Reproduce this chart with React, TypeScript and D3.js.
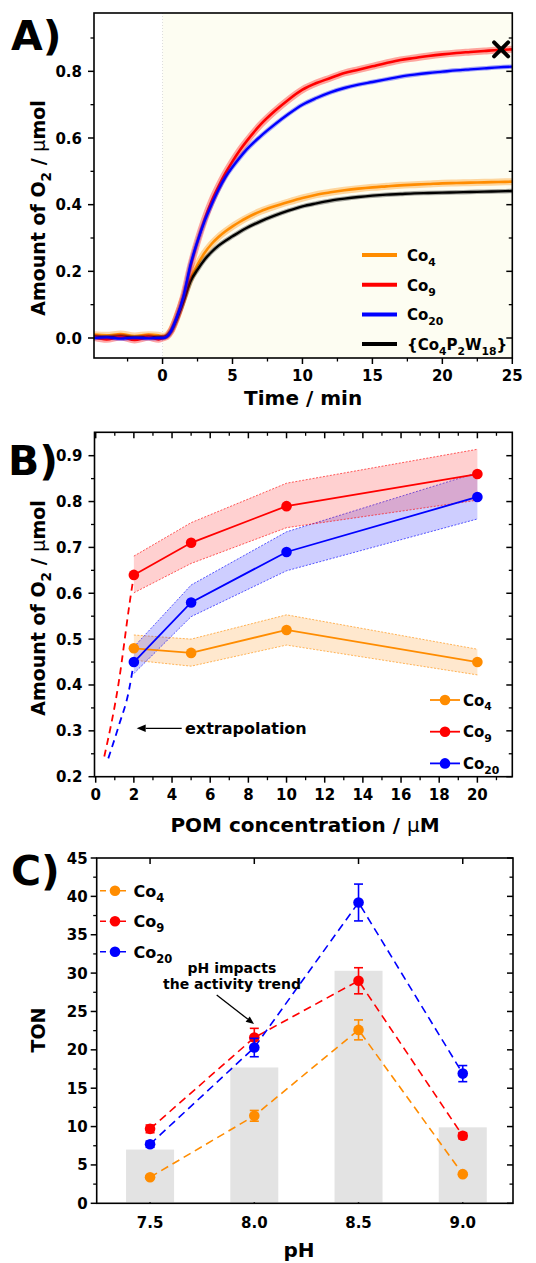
import React from 'react';
import * as d3 from 'd3';

// ---------------- Panel A data (O2 evolution vs time) ----------------
const timeA = [-4.9, -4, -3, -2, -1, -0.3, 0, 0.3, 0.6, 1, 1.5, 2, 2.5, 3, 3.5, 4, 4.5, 5, 5.5, 6, 7, 8, 9, 10, 11, 12, 13, 14, 15, 16, 17, 18, 19, 20, 21, 22, 23, 24, 25];
const co4A = [0.01, 0.008, 0.012, 0.006, 0.01, 0.008, 0.005, 0.008, 0.022, 0.06, 0.12, 0.178, 0.22, 0.255, 0.282, 0.303, 0.32, 0.335, 0.348, 0.36, 0.38, 0.395, 0.408, 0.42, 0.43, 0.437, 0.443, 0.448, 0.452, 0.455, 0.458, 0.46, 0.462, 0.464, 0.465, 0.466, 0.467, 0.468, 0.469];
const co9A = [0.002, -0.004, 0.003, -0.006, 0.002, -0.004, 0.0, 0.004, 0.02, 0.06, 0.125, 0.215, 0.29, 0.355, 0.41, 0.455, 0.495, 0.53, 0.562, 0.59, 0.64, 0.68, 0.715, 0.745, 0.765, 0.78, 0.795, 0.805, 0.815, 0.825, 0.834, 0.84, 0.846, 0.851, 0.855, 0.858, 0.861, 0.864, 0.866];
const co20A = [0.0, 0.002, -0.002, 0.001, -0.001, 0.0, 0.0, 0.004, 0.02, 0.06, 0.125, 0.22, 0.29, 0.35, 0.4, 0.445, 0.483, 0.513, 0.54, 0.565, 0.605, 0.64, 0.672, 0.7, 0.72, 0.737, 0.75, 0.76, 0.768, 0.776, 0.784, 0.79, 0.795, 0.799, 0.803, 0.806, 0.809, 0.812, 0.814];
const refA = [0.004, 0.002, 0.005, 0.001, 0.003, 0.002, 0.002, 0.006, 0.02, 0.055, 0.11, 0.17, 0.205, 0.235, 0.258, 0.277, 0.292, 0.305, 0.318, 0.33, 0.35, 0.367, 0.382, 0.395, 0.404, 0.412, 0.418, 0.423, 0.427, 0.43, 0.432, 0.434, 0.435, 0.436, 0.437, 0.438, 0.439, 0.44, 0.441];
const crossA = { t: 24.2, v: 0.866 };
const xTicksA = [0, 5, 10, 15, 20, 25];
const xMinorA = [-2.5, 2.5, 7.5, 12.5, 17.5, 22.5];
const yTicksA = [0, 0.2, 0.4, 0.6, 0.8];
const yMinorA = [0.1, 0.3, 0.5, 0.7, 0.9];

// ---------------- Panel B data (O2 vs POM concentration) ----------------
const concB = [2, 5, 10, 20];
const co4B = [0.48, 0.47, 0.52, 0.45];
const co4BLo = [0.454, 0.441, 0.487, 0.422];
const co4BHi = [0.509, 0.5, 0.553, 0.478];
const co9B = [0.64, 0.71, 0.79, 0.86];
const co9BLo = [0.601, 0.665, 0.743, 0.803];
const co9BHi = [0.681, 0.754, 0.84, 0.914];
const co20B = [0.45, 0.58, 0.69, 0.81];
const co20BLo = [0.425, 0.549, 0.649, 0.762];
const co20BHi = [0.483, 0.618, 0.734, 0.863];
const extraCo9Conc = [0.45, 1.2, 1.8, 2];
const extraCo9Val = [0.244, 0.404, 0.585, 0.64];
const extraCo20Conc = [0.66, 1.2, 1.75, 2];
const extraCo20Val = [0.24, 0.31, 0.39, 0.45];
const xTicksB = [0, 2, 4, 6, 8, 10, 12, 14, 16, 18, 20];
const xMinorB = [1, 3, 5, 7, 9, 11, 13, 15, 17, 19, 21];
const yTicksB = [0.2, 0.3, 0.4, 0.5, 0.6, 0.7, 0.8, 0.9];
const yMinorB = [0.25, 0.35, 0.45, 0.55, 0.65, 0.75, 0.85];

// ---------------- Panel C data (TON vs pH) ----------------
const pHC = [7.5, 8.0, 8.5, 9.0];
const pHLabels = ['7.5', '8.0', '8.5', '9.0'];
const barC = [7.0, 17.7, 30.3, 9.9];
const co4C = [3.4, 11.4, 22.6, 3.8];
const co4CErr = [0.2, 0.7, 1.3, 0.2];
const co9C = [9.7, 21.6, 29.0, 8.8];
const co9CErr = [0.5, 1.2, 1.7, 0.4];
const co20C = [7.7, 20.3, 39.2, 16.9];
const co20CErr = [0.4, 1.2, 2.4, 1.05];
const yTicksC = [0, 5, 10, 15, 20, 25, 30, 35, 40, 45];
const yMinorC = [2.5, 7.5, 12.5, 17.5, 22.5, 27.5, 32.5, 37.5, 42.5];

const ORANGE = '#ff8c00';
const RED = '#ff0000';
const BLUE = '#0000ff';
const BLACK = '#000000';
const FONT = "'DejaVu Sans', Verdana, sans-serif";

type Part = { t: string; sub?: boolean; normal?: boolean };

function Rich(props: { x: number; y: number; parts: Part[]; size: number; anchor?: string; transform?: string }) {
  const { x, y, parts, size, anchor = 'start', transform } = props;
  const off = size * 0.32;
  let prevSub = false;
  return (
    <text x={x} y={y} fontSize={size} fontWeight="bold" fontFamily={FONT} textAnchor={anchor} transform={transform}>
      {parts.map((p, i) => {
        const dy = (p.sub ? off : 0) - (prevSub ? off : 0);
        prevSub = !!p.sub;
        return (
          <tspan key={i} dy={dy} fontSize={p.sub ? size * 0.72 : size} fontWeight={p.normal ? 'normal' : 'bold'}>
            {p.t}
          </tspan>
        );
      })}
    </text>
  );
}

function Arrow({ x1, y1, x2, y2, head = 8 }: { x1: number; y1: number; x2: number; y2: number; head?: number }) {
  const a = Math.atan2(y2 - y1, x2 - x1);
  const hw = head * 0.42;
  const bx = x2 - head * Math.cos(a);
  const by = y2 - head * Math.sin(a);
  const p1 = [bx + hw * Math.sin(a), by - hw * Math.cos(a)];
  const p2 = [bx - hw * Math.sin(a), by + hw * Math.cos(a)];
  return (
    <g>
      <line x1={x1} y1={y1} x2={bx} y2={by} stroke="#000" strokeWidth={1.3} />
      <polygon points={`${x2},${y2} ${p1[0]},${p1[1]} ${p2[0]},${p2[1]}`} fill="#000" />
    </g>
  );
}

const co = (n: string): Part[] => [{ t: 'Co' }, { t: n, sub: true }];
const yTitleParts: Part[] = [{ t: 'Amount of O' }, { t: '2', sub: true }, { t: ' / ' }, { t: 'µ', normal: true }, { t: 'mol' }];

export default function App() {
  // ---------- scales ----------
  const xA = d3.scaleLinear().domain([-4.9, 25]).range([94, 512.3]);
  const yA = d3.scaleLinear().domain([-0.06, 0.975]).range([358, 13]);
  const xB = d3.scaleLinear().domain([0, 21.83]).range([95.7, 512.3]);
  const yB = d3.scaleLinear().domain([0.2, 0.951]).range([776.7, 432.3]);
  const xC = d3.scaleLinear().domain([7.244, 9.241]).range([96.7, 513]);
  const yC = d3.scaleLinear().domain([0, 45]).range([1203.3, 858]);

  const lineA = d3
    .line<number>()
    .x((_, i) => xA(timeA[i]))
    .y((d) => yA(d))
    .curve(d3.curveMonotoneX);

  const seriesA = [
    { name: co('4'), vals: co4A, color: ORANGE, w: 2.6, halo: 7 },
    { name: co('9'), vals: co9A, color: RED, w: 2.6, halo: 7 },
    { name: co('20'), vals: co20A, color: BLUE, w: 2.4, halo: 4.5 },
    {
      name: [{ t: '{Co' }, { t: '4', sub: true }, { t: 'P' }, { t: '2', sub: true }, { t: 'W' }, { t: '18', sub: true }, { t: '}' }] as Part[],
      vals: refA,
      color: BLACK,
      w: 2.4,
      halo: 4.5,
    },
  ];
  const drawOrderA = [0, 3, 1, 2];

  const [aL, aR, aT, aB] = [xA.range()[0], xA.range()[1], yA.range()[1], yA.range()[0]];
  const [bL, bR, bT, bB] = [94.5, xB.range()[1], yB.range()[1], yB.range()[0]];
  const [cL, cR, cT, cB] = [xC.range()[0], xC.range()[1], yC.range()[1], yC.range()[0]];

  // ---------- Panel B helpers ----------
  const lineB = (xs: number[], ys: number[], curve = d3.curveLinear) =>
    d3
      .line<number>()
      .x((_, i) => xB(xs[i]))
      .y((d) => yB(d))
      .curve(curve)(ys) as string;
  const areaB = (lo: number[], hi: number[]) =>
    d3
      .area<number>()
      .x((_, i) => xB(concB[i]))
      .y0((_, i) => yB(lo[i]))
      .y1((d) => yB(d))(hi) as string;

  const seriesB = [
    { name: co('4'), v: co4B, lo: co4BLo, hi: co4BHi, color: ORANGE, fill: 'rgba(255,150,30,0.22)' },
    { name: co('20'), v: co20B, lo: co20BLo, hi: co20BHi, color: BLUE, fill: 'rgba(30,30,255,0.22)' },
    { name: co('9'), v: co9B, lo: co9BLo, hi: co9BHi, color: RED, fill: 'rgba(255,40,40,0.22)' },
  ];
  const legendB = [
    { name: co('4'), color: ORANGE },
    { name: co('9'), color: RED },
    { name: co('20'), color: BLUE },
  ];

  // ---------- Panel C helpers ----------
  const lineC = (ys: number[]) =>
    d3
      .line<number>()
      .x((_, i) => xC(pHC[i]))
      .y((d) => yC(d))(ys) as string;
  const seriesC = [
    { name: co('4'), v: co4C, e: co4CErr, color: ORANGE },
    { name: co('9'), v: co9C, e: co9CErr, color: RED },
    { name: co('20'), v: co20C, e: co20CErr, color: BLUE },
  ];

  const tickFont = { fontFamily: FONT, fontWeight: 'bold' as const, fontSize: 15 };

  return (
    <svg width={536} height={1263} style={{ position: 'absolute', left: 0, top: 0, background: '#fff' }}>
      {/* ================= PANEL A ================= */}
      <rect x={xA(0)} y={aT} width={aR - xA(0)} height={aB - aT} fill="#fdfdf2" />
      <line x1={xA(0)} x2={xA(0)} y1={aT} y2={aB} stroke="#dcdcdc" strokeDasharray="1,2" />
      {drawOrderA.map((k) => {
        const s = seriesA[k];
        const d = lineA(s.vals) as string;
        return (
          <g key={k}>
            <path d={d} fill="none" stroke={s.color} strokeWidth={s.halo} strokeOpacity={0.35} strokeLinejoin="round" />
            <path d={d} fill="none" stroke={s.color} strokeWidth={s.w} strokeLinejoin="round" />
          </g>
        );
      })}
      {/* cross marker */}
      <g stroke="#000" strokeWidth={4} strokeLinecap="round">
        <line x1={xA(crossA.t) - 7} y1={yA(crossA.v) - 7} x2={xA(crossA.t) + 7} y2={yA(crossA.v) + 7} />
        <line x1={xA(crossA.t) - 7} y1={yA(crossA.v) + 7} x2={xA(crossA.t) + 7} y2={yA(crossA.v) - 7} />
      </g>
      {/* legend A */}
      {seriesA.map((s, i) => {
        const ly = 255 + i * 29.7;
        return (
          <g key={i}>
            <line x1={362} x2={397} y1={ly} y2={ly} stroke={s.color} strokeWidth={4} />
            <Rich x={407} y={ly + 6} parts={s.name} size={15} />
          </g>
        );
      })}
      {/* frame & ticks A */}
      <rect x={aL} y={aT} width={aR - aL} height={aB - aT} fill="none" stroke="#000" strokeWidth={1.6} />
      {xTicksA.map((t) => (
        <g key={'xa' + t}>
          <line x1={xA(t)} x2={xA(t)} y1={aB} y2={aB + 6} stroke="#000" strokeWidth={1.5} />
          <text x={xA(t)} y={aB + 23} textAnchor="middle" {...tickFont}>{t}</text>
        </g>
      ))}
      {xMinorA.map((t) => (
        <line key={'xam' + t} x1={xA(t)} x2={xA(t)} y1={aB} y2={aB + 3.5} stroke="#000" strokeWidth={1.3} />
      ))}
      {yTicksA.map((t) => (
        <g key={'ya' + t}>
          <line x1={aL - 6} x2={aL} y1={yA(t)} y2={yA(t)} stroke="#000" strokeWidth={1.5} />
          <line x1={aR - 6} x2={aR} y1={yA(t)} y2={yA(t)} stroke="#000" strokeWidth={1.5} />
          <text x={aL - 12} y={yA(t) + 5.5} textAnchor="end" {...tickFont}>{t.toFixed(1)}</text>
        </g>
      ))}
      {yMinorA.map((t) => (
        <g key={'yam' + t}>
          <line x1={aL - 3.5} x2={aL} y1={yA(t)} y2={yA(t)} stroke="#000" strokeWidth={1.3} />
          <line x1={aR - 3.5} x2={aR} y1={yA(t)} y2={yA(t)} stroke="#000" strokeWidth={1.3} />
        </g>
      ))}
      <text x={(aL + aR) / 2} y={405} textAnchor="middle" fontFamily={FONT} fontWeight="bold" fontSize={20}>
        Time / min
      </text>
      <Rich x={0} y={0} parts={yTitleParts} size={19} anchor="middle" transform={`translate(45,208) rotate(-90)`} />
      <text x={11} y={50} fontFamily={FONT} fontWeight="bold" fontSize={41}>A)</text>

      {/* ================= PANEL B ================= */}
      {seriesB.map((s, i) => (
        <g key={'band' + i}>
          <path d={areaB(s.lo, s.hi)} fill={s.fill} stroke="none" />
          <path d={lineB(concB, s.lo)} fill="none" stroke={s.color} strokeWidth={0.9} strokeDasharray="2,1.5" opacity={0.7} />
          <path d={lineB(concB, s.hi)} fill="none" stroke={s.color} strokeWidth={0.9} strokeDasharray="2,1.5" opacity={0.7} />
        </g>
      ))}
      <path d={lineB(extraCo9Conc, extraCo9Val, d3.curveMonotoneX)} fill="none" stroke={RED} strokeWidth={1.8} strokeDasharray="7,5" />
      <path d={lineB(extraCo20Conc, extraCo20Val, d3.curveMonotoneX)} fill="none" stroke={BLUE} strokeWidth={1.8} strokeDasharray="7,5" />
      {seriesB.map((s, i) => (
        <g key={'ln' + i}>
          <path d={lineB(concB, s.v)} fill="none" stroke={s.color} strokeWidth={1.8} />
          {s.v.map((v, j) => (
            <circle key={j} cx={xB(concB[j])} cy={yB(v)} r={5.3} fill={s.color} />
          ))}
        </g>
      ))}
      {/* extrapolation annotation */}
      <Arrow x1={181.7} y1={728.3} x2={136.7} y2={728.3} head={9} />
      <text x={185} y={734} fontFamily={FONT} fontWeight="bold" fontSize={16}>extrapolation</text>
      {/* legend B */}
      {legendB.map((s, i) => {
        const ly = 700 + i * 31.7;
        return (
          <g key={'lgb' + i}>
            <line x1={430} x2={460} y1={ly} y2={ly} stroke={s.color} strokeWidth={1.8} />
            <circle cx={445} cy={ly} r={5.3} fill={s.color} />
            <Rich x={463} y={ly + 5.5} parts={s.name} size={15} />
          </g>
        );
      })}
      {/* frame & ticks B */}
      <rect x={bL} y={bT} width={bR - bL} height={bB - bT} fill="none" stroke="#000" strokeWidth={1.6} />
      {xTicksB.map((t) => (
        <g key={'xb' + t}>
          <line x1={xB(t)} x2={xB(t)} y1={bB} y2={bB + 6} stroke="#000" strokeWidth={1.5} />
          <line x1={xB(t)} x2={xB(t)} y1={bT} y2={bT + 6} stroke="#000" strokeWidth={1.5} />
          <text x={xB(t)} y={bB + 23} textAnchor="middle" {...tickFont}>{t}</text>
        </g>
      ))}
      {xMinorB.map((t) => (
        <g key={'xbm' + t}>
          <line x1={xB(t)} x2={xB(t)} y1={bB} y2={bB + 3.5} stroke="#000" strokeWidth={1.3} />
          <line x1={xB(t)} x2={xB(t)} y1={bT} y2={bT + 3.5} stroke="#000" strokeWidth={1.3} />
        </g>
      ))}
      {yTicksB.map((t) => (
        <g key={'yb' + t}>
          <line x1={bL - 6} x2={bL} y1={yB(t)} y2={yB(t)} stroke="#000" strokeWidth={1.5} />
          <line x1={bR - 6} x2={bR} y1={yB(t)} y2={yB(t)} stroke="#000" strokeWidth={1.5} />
          <text x={bL - 12} y={yB(t) + 5.5} textAnchor="end" {...tickFont}>{t.toFixed(1)}</text>
        </g>
      ))}
      {yMinorB.map((t) => (
        <g key={'ybm' + t}>
          <line x1={bL - 3.5} x2={bL} y1={yB(t)} y2={yB(t)} stroke="#000" strokeWidth={1.3} />
          <line x1={bR - 3.5} x2={bR} y1={yB(t)} y2={yB(t)} stroke="#000" strokeWidth={1.3} />
        </g>
      ))}
      <Rich
        x={305}
        y={832}
        anchor="middle"
        size={20}
        parts={[{ t: 'POM concentration / ' }, { t: 'µ', normal: true }, { t: 'M' }]}
      />
      <Rich x={0} y={0} parts={yTitleParts} size={19} anchor="middle" transform={`translate(45,608) rotate(-90)`} />
      <text x={8} y={475} fontFamily={FONT} fontWeight="bold" fontSize={41}>B)</text>

      {/* ================= PANEL C ================= */}
      {pHC.map((p) => (
        <g key={'xct' + p}>
          <line x1={xC(p)} x2={xC(p)} y1={cB} y2={cB - 6} stroke="#000" strokeWidth={1.5} />
          <line x1={xC(p)} x2={xC(p)} y1={cT} y2={cT + 6} stroke="#000" strokeWidth={1.5} />
        </g>
      ))}
      {barC.map((b, i) => (
        <rect key={'bar' + i} x={xC(pHC[i]) - 24} y={yC(b)} width={48} height={yC(0) - yC(b) - 1} fill="#e3e3e3" />
      ))}
      {seriesC.map((s, i) => (
        <path key={'lc' + i} d={lineC(s.v)} fill="none" stroke={s.color} strokeWidth={1.6} strokeDasharray="8,5" />
      ))}
      {seriesC.map((s, i) => (
        <g key={'pc' + i}>
          {s.v.map((v, j) => {
            const cx = xC(pHC[j]);
            return (
              <g key={j}>
                <line x1={cx} x2={cx} y1={yC(v - s.e[j])} y2={yC(v + s.e[j])} stroke={s.color} strokeWidth={1.6} />
                <line x1={cx - 4.5} x2={cx + 4.5} y1={yC(v - s.e[j])} y2={yC(v - s.e[j])} stroke={s.color} strokeWidth={1.6} />
                <line x1={cx - 4.5} x2={cx + 4.5} y1={yC(v + s.e[j])} y2={yC(v + s.e[j])} stroke={s.color} strokeWidth={1.6} />
                <circle cx={cx} cy={yC(v)} r={5.3} fill={s.color} />
              </g>
            );
          })}
        </g>
      ))}
      {/* annotation */}
      <text x={232} y={973} textAnchor="middle" fontFamily={FONT} fontWeight="bold" fontSize={14}>pH impacts</text>
      <text x={232} y={988.5} textAnchor="middle" fontFamily={FONT} fontWeight="bold" fontSize={14}>the activity trend</text>
      <Arrow x1={216.7} y1={995} x2={254} y2={1024} head={8} />
      {/* legend C */}
      {seriesC.map((s, i) => {
        const ly = 890.7 + i * 30.5;
        return (
          <g key={'lgc' + i}>
            <line x1={100} x2={128} y1={ly} y2={ly} stroke={s.color} strokeWidth={1.6} strokeDasharray="6,4" />
            <circle cx={115} cy={ly} r={5.3} fill={s.color} />
            <Rich x={133.5} y={ly + 6} parts={s.name} size={16} />
          </g>
        );
      })}
      {/* frame & ticks C */}
      <rect x={cL} y={cT} width={cR - cL} height={cB - cT} fill="none" stroke="#000" strokeWidth={1.6} />
      {pHC.map((p, i) => (
        <text key={'xcl' + p} x={xC(p)} y={cB + 25} textAnchor="middle" {...tickFont}>{pHLabels[i]}</text>
      ))}
      {yTicksC.map((t) => (
        <g key={'yc' + t}>
          <line x1={cL - 6} x2={cL} y1={yC(t)} y2={yC(t)} stroke="#000" strokeWidth={1.5} />
          <line x1={cR - 6} x2={cR} y1={yC(t)} y2={yC(t)} stroke="#000" strokeWidth={1.5} />
          <text x={cL - 9} y={yC(t) + 5.5} textAnchor="end" {...tickFont}>{t}</text>
        </g>
      ))}
      {yMinorC.map((t) => (
        <g key={'ycm' + t}>
          <line x1={cL - 3.5} x2={cL} y1={yC(t)} y2={yC(t)} stroke="#000" strokeWidth={1.3} />
          <line x1={cR - 3.5} x2={cR} y1={yC(t)} y2={yC(t)} stroke="#000" strokeWidth={1.3} />
        </g>
      ))}
      <text x={299} y={1257} textAnchor="middle" fontFamily={FONT} fontWeight="bold" fontSize={20}>pH</text>
      <text transform="translate(45,1030) rotate(-90)" textAnchor="middle" fontFamily={FONT} fontWeight="bold" fontSize={19}>TON</text>
      <text x={11} y={885} fontFamily={FONT} fontWeight="bold" fontSize={41}>C)</text>
    </svg>
  );
}
